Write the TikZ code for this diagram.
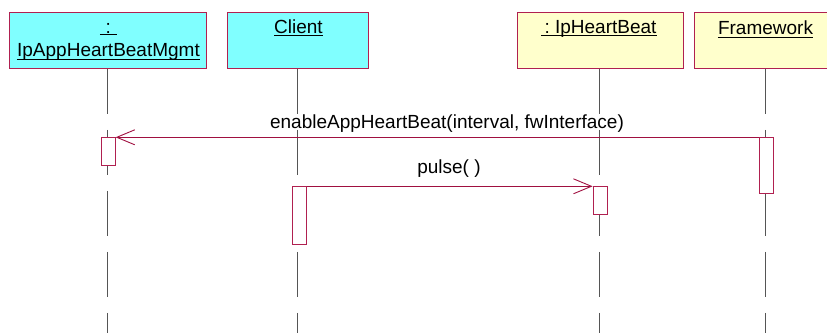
\documentclass[tikz,border=0pt]{standalone}
\usepackage{fontspec}
\setmainfont{Liberation Sans}
\usetikzlibrary{arrows.meta}
\definecolor{edgec}{RGB}{176,32,80}
\definecolor{msgc}{RGB}{160,16,64}
\definecolor{cyanfill}{RGB}{128,255,255}
\definecolor{yellowfill}{RGB}{255,255,204}
\definecolor{lifec}{RGB}{85,85,85}
\begin{document}
\begin{tikzpicture}[x=1pt,y=-1pt,
  objbox/.style={draw=edgec, line width=0.9pt, inner sep=0pt, anchor=north west, minimum height=56.3pt},
  lbl/.style={font=\fontsize{19}{23}\selectfont, inner sep=0pt, anchor=base, text=black},
  uline/.style={draw=black, line width=0.9pt},
  lifeline/.style={draw=lifec, line width=1pt, dash pattern=on 45pt off 16pt},
  act/.style={draw=edgec, fill=white, line width=0.9pt, inner sep=0pt, anchor=north west, minimum width=14pt},
  message/.style={draw=msgc, line width=0.9pt, -{Straight Barb[length=18pt,width=15pt,line width=0.9pt]}}
]
\useasboundingbox (0,0) rectangle (827,332);
\clip (0,0) rectangle (827,332);

% object boxes
\node[objbox, fill=cyanfill, minimum width=197pt] (b1) at (9,11.7) {};
\node[objbox, fill=cyanfill, minimum width=141.6pt] (b2) at (226.7,11.7) {};
\node[objbox, fill=yellowfill, minimum width=165.7pt] (b3) at (517,11.7) {};
\node[objbox, fill=yellowfill, minimum width=142.7pt] (b4) at (694.3,11.7) {};

% lifeline ends
\coordinate (e1) at (107.7,340);
\coordinate (e2) at (297.7,340);
\coordinate (e3) at (599.8,340);
\coordinate (e4) at (765.7,340);
\draw[lifeline] (b1.south -| e1) -- (e1);
\draw[lifeline] (b2.south -| e2) -- (e2);
\draw[lifeline] (b3.south -| e3) -- (e3);
\draw[lifeline] (b4.south -| e4) -- (e4);

% titles
\node[lbl] (t1a) at (108.3,33.3) {:};
\draw[uline] ([xshift=-8.5pt,yshift=-1.5pt]t1a.base) -- ([xshift=8.5pt,yshift=-1.5pt]t1a.base);
\node[lbl] (t1b) at (108.5,56.8) {IpAppHeartBeatMgmt};
\draw[uline] ([yshift=-3pt]t1b.base west) -- ([yshift=-3pt]t1b.base east);
\node[lbl] (t2) at (298.5,33.6) {Client};
\draw[uline] ([yshift=-2.3pt]t2.base west) -- ([yshift=-2.3pt]t2.base east);
\node[lbl] (t3) at (600.5,33.6) {:\ IpHeartBeat};
\draw[uline] ([xshift=-3pt,yshift=-2.3pt]t3.base west) -- ([yshift=-2.3pt]t3.base east);
\node[lbl] (t4) at (765.5,34) {Framework};
\draw[uline] ([yshift=-3pt]t4.base west) -- ([yshift=-3pt]t4.base east);

% activations
\node[act, minimum height=27.7pt] (a1) at (100.7,137.3) {};
\node[act, minimum height=57.4pt] (a2) at (291.7,186.3) {};
\node[act, minimum height=28pt] (a3) at (592.6,186.3) {};
\node[act, minimum height=56pt] (a4) at (758.6,137.3) {};

% messages
\draw[message] (a4.north west) -- (a1.north east);
\draw[message] (a2.north east) -- (a3.north west);
\node[lbl] (m1) at (447,128.3) {enableAppHeartBeat(interval, fwInterface)};
\node[lbl] (m2) at (449,173.3) {pulse( )};
\end{tikzpicture}
\end{document}
